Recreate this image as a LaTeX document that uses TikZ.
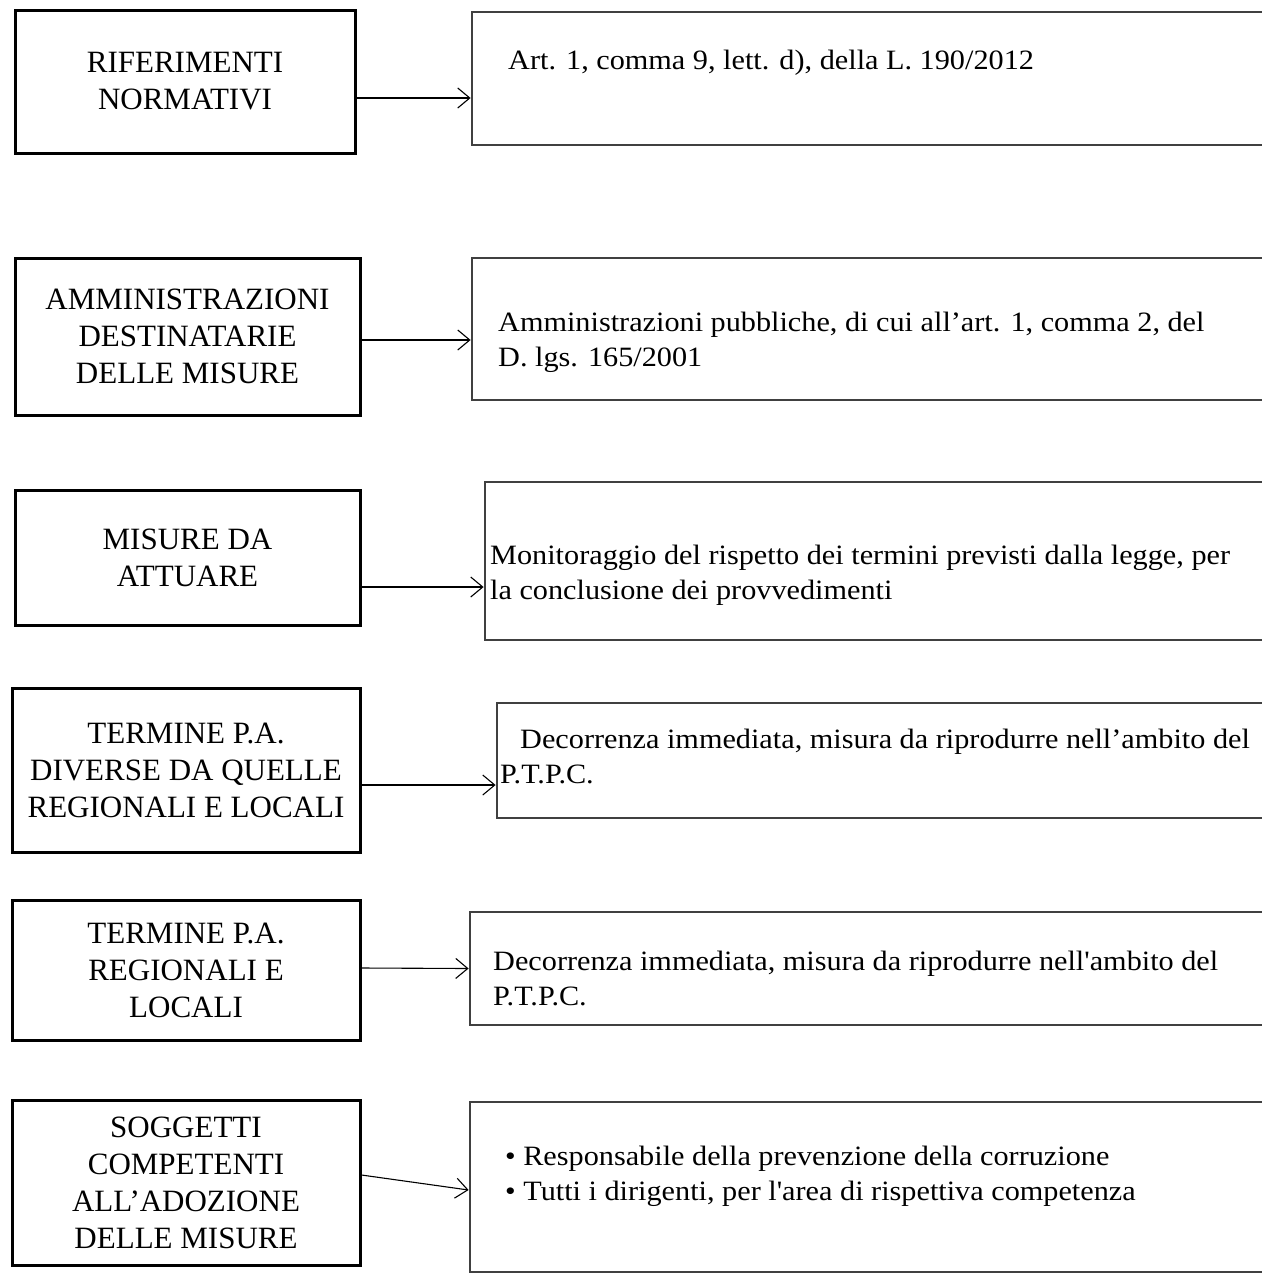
\documentclass[tikz,border=0pt]{standalone}
\usepackage{fontspec}
\setmainfont{Liberation Serif}
\newfontfamily\largofont{Liberation Serif}[FakeStretch=1.08]
\usetikzlibrary{arrows.meta}

\begin{document}
\begin{tikzpicture}[x=1pt,y=-1pt,
  sinistra/.style={draw=black,line width=3pt,align=center,inner sep=0pt,font=\fontsize{31}{37}\selectfont},
  destra/.style={draw=black!75,line width=2.8pt,inner sep=0pt},
  testo/.style={anchor=base west,align=left,inner sep=0pt,font=\largofont\fontsize{28}{35}\selectfont},
  freccia/.style={line width=1.1pt,-{Straight Barb[length=12pt,width=20pt,line width=1.1pt]}}]
\useasboundingbox (0,0) rectangle (1261,1282);

% riferimenti normativi
\node[sinistra,minimum width=340pt,minimum height=143pt] (rif) at (185,81.5) {RIFERIMENTI\\NORMATIVI};
\node[destra,minimum width=803pt,minimum height=133pt] (rifD) at (873.5,78.5) {};
\node[testo] (rifT) at (508,69) {Art. 1, comma 9, lett. d), della L. 190/2012};
\draw[freccia] ([yshift=-16.5pt]rif.east) -- ([yshift=-19.5pt]rifD.west);

% amministrazioni destinatarie
\node[sinistra,minimum width=345pt,minimum height=157pt] (amm) at (187.5,336.5) {AMMINISTRAZIONI\\DESTINATARIE\\DELLE MISURE};
\node[destra,minimum width=803pt,minimum height=142pt] (ammD) at (873.5,329) {};
\node[testo] (ammT) at (498,366) {Amministrazioni pubbliche, di cui all’art. 1, comma 2, del\\D. lgs. 165/2001};
\draw[freccia] ([yshift=-3.5pt]amm.east) -- ([yshift=-11pt]ammD.west);

% misure da attuare
\node[sinistra,minimum width=345pt,minimum height=135pt] (mis) at (187.5,557.5) {MISURE DA\\ATTUARE};
\node[destra,minimum width=790pt,minimum height=158pt] (misD) at (880,561) {};
\node[testo] (misT) at (490,599) {Monitoraggio del rispetto dei termini previsti dalla legge, per\\la conclusione dei provvedimenti};
\draw[freccia] ([yshift=-29.5pt]mis.east) -- ([yshift=-26pt]misD.west);

% termine p.a. diverse
\node[sinistra,minimum width=348pt,minimum height=164pt] (div) at (186,770) {TERMINE P.A.\\DIVERSE DA QUELLE\\REGIONALI E LOCALI};
\node[destra,minimum width=778pt,minimum height=115pt] (divD) at (886,760.5) {};
\node[testo] (divT) at (500,783) {\hspace*{20pt}Decorrenza immediata, misura da riprodurre nell’ambito del\\P.T.P.C.};
\draw[freccia] ([yshift=-15pt]div.east) -- ([yshift=-24.5pt]divD.west);

% termine p.a. regionali e locali
\node[sinistra,minimum width=348pt,minimum height=140pt] (reg) at (186,970) {TERMINE P.A.\\REGIONALI E\\LOCALI};
\node[destra,minimum width=805pt,minimum height=113pt] (regD) at (872.5,968.5) {};
\node[testo] (regT) at (493,1005) {Decorrenza immediata, misura da riprodurre nell'ambito del\\P.T.P.C.};
\draw[freccia] ([yshift=2pt]reg.east) -- (regD.west);

% soggetti competenti
\node[sinistra,minimum width=348pt,minimum height=165pt] (sog) at (186,1182.5) {SOGGETTI\\COMPETENTI\\ALL’ADOZIONE\\DELLE MISURE};
\node[destra,minimum width=805pt,minimum height=170pt] (sogD) at (872.5,1187) {};
\node[testo] (sogT) at (505,1200) {\textbullet\ Responsabile della prevenzione della corruzione\\\textbullet\ Tutti i dirigenti, per l'area di rispettiva competenza};
\draw[freccia] ([yshift=7.5pt]sog.east) -- ([yshift=-3pt]sogD.west);
\end{tikzpicture}
\end{document}
